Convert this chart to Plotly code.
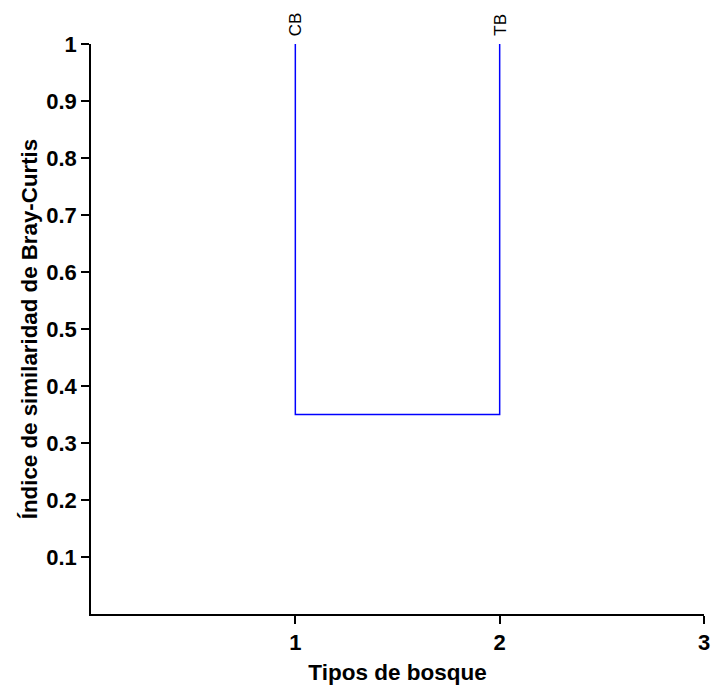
import plotly.graph_objects as go

# Data
categories = ["CB", "TB"]
leaf_positions = [1, 2]
leaf_heights = [1.0, 1.0]
merge_height = 0.35

y_tick_vals = [0.1, 0.2, 0.3, 0.4, 0.5, 0.6, 0.7, 0.8, 0.9, 1.0]
y_tick_text = ["0.1", "0.2", "0.3", "0.4", "0.5", "0.6", "0.7", "0.8", "0.9", "1"]
x_tick_vals = [1, 2, 3]
x_tick_text = ["1", "2", "3"]

FONT = "Liberation Sans, Arial, sans-serif"
BLUE = "#0000FF"

fig = go.Figure()
fig.add_trace(go.Scatter(
    x=[leaf_positions[0], leaf_positions[0], leaf_positions[1], leaf_positions[1]],
    y=[leaf_heights[0], merge_height, merge_height, leaf_heights[1]],
    mode="lines",
    line=dict(color=BLUE, width=1.5),
    hoverinfo="skip",
    showlegend=False,
))

for xp, lab in zip(leaf_positions, categories):
    fig.add_annotation(
        x=xp, y=1, xref="x", yref="y",
        text=lab, showarrow=False, textangle=-90,
        xanchor="center", yanchor="bottom", yshift=6,
        font=dict(family=FONT, size=17, color="black"),
    )

axis_common = dict(
    showgrid=False, zeroline=False, showline=True, linecolor="black",
    linewidth=1.5, ticks="outside", ticklen=8, tickwidth=1.5, tickcolor="black",
    tickfont=dict(family=FONT, size=22, color="black", weight="bold"),
    automargin=False,
)

fig.update_layout(
    width=714, height=691,
    margin=dict(l=91, r=10, t=44, b=77),
    plot_bgcolor="white", paper_bgcolor="white",
    xaxis=dict(range=[0, 3], tickvals=x_tick_vals, ticktext=x_tick_text,
               title=dict(text="Tipos de bosque", standoff=10,
                          font=dict(family=FONT, size=22.5, color="black", weight="bold")),
               **axis_common),
    yaxis=dict(range=[0, 1], tickvals=y_tick_vals, ticktext=y_tick_text,
               title=dict(text="Índice de similaridad de Bray-Curtis", standoff=2,
                          font=dict(family=FONT, size=22.3, color="black", weight="bold")),
               **axis_common),
)

fig.write_html(
    "out.html",
    config={"displayModeBar": False},
    post_script="document.body.style.margin='0px';document.body.style.overflow='hidden';",
)
